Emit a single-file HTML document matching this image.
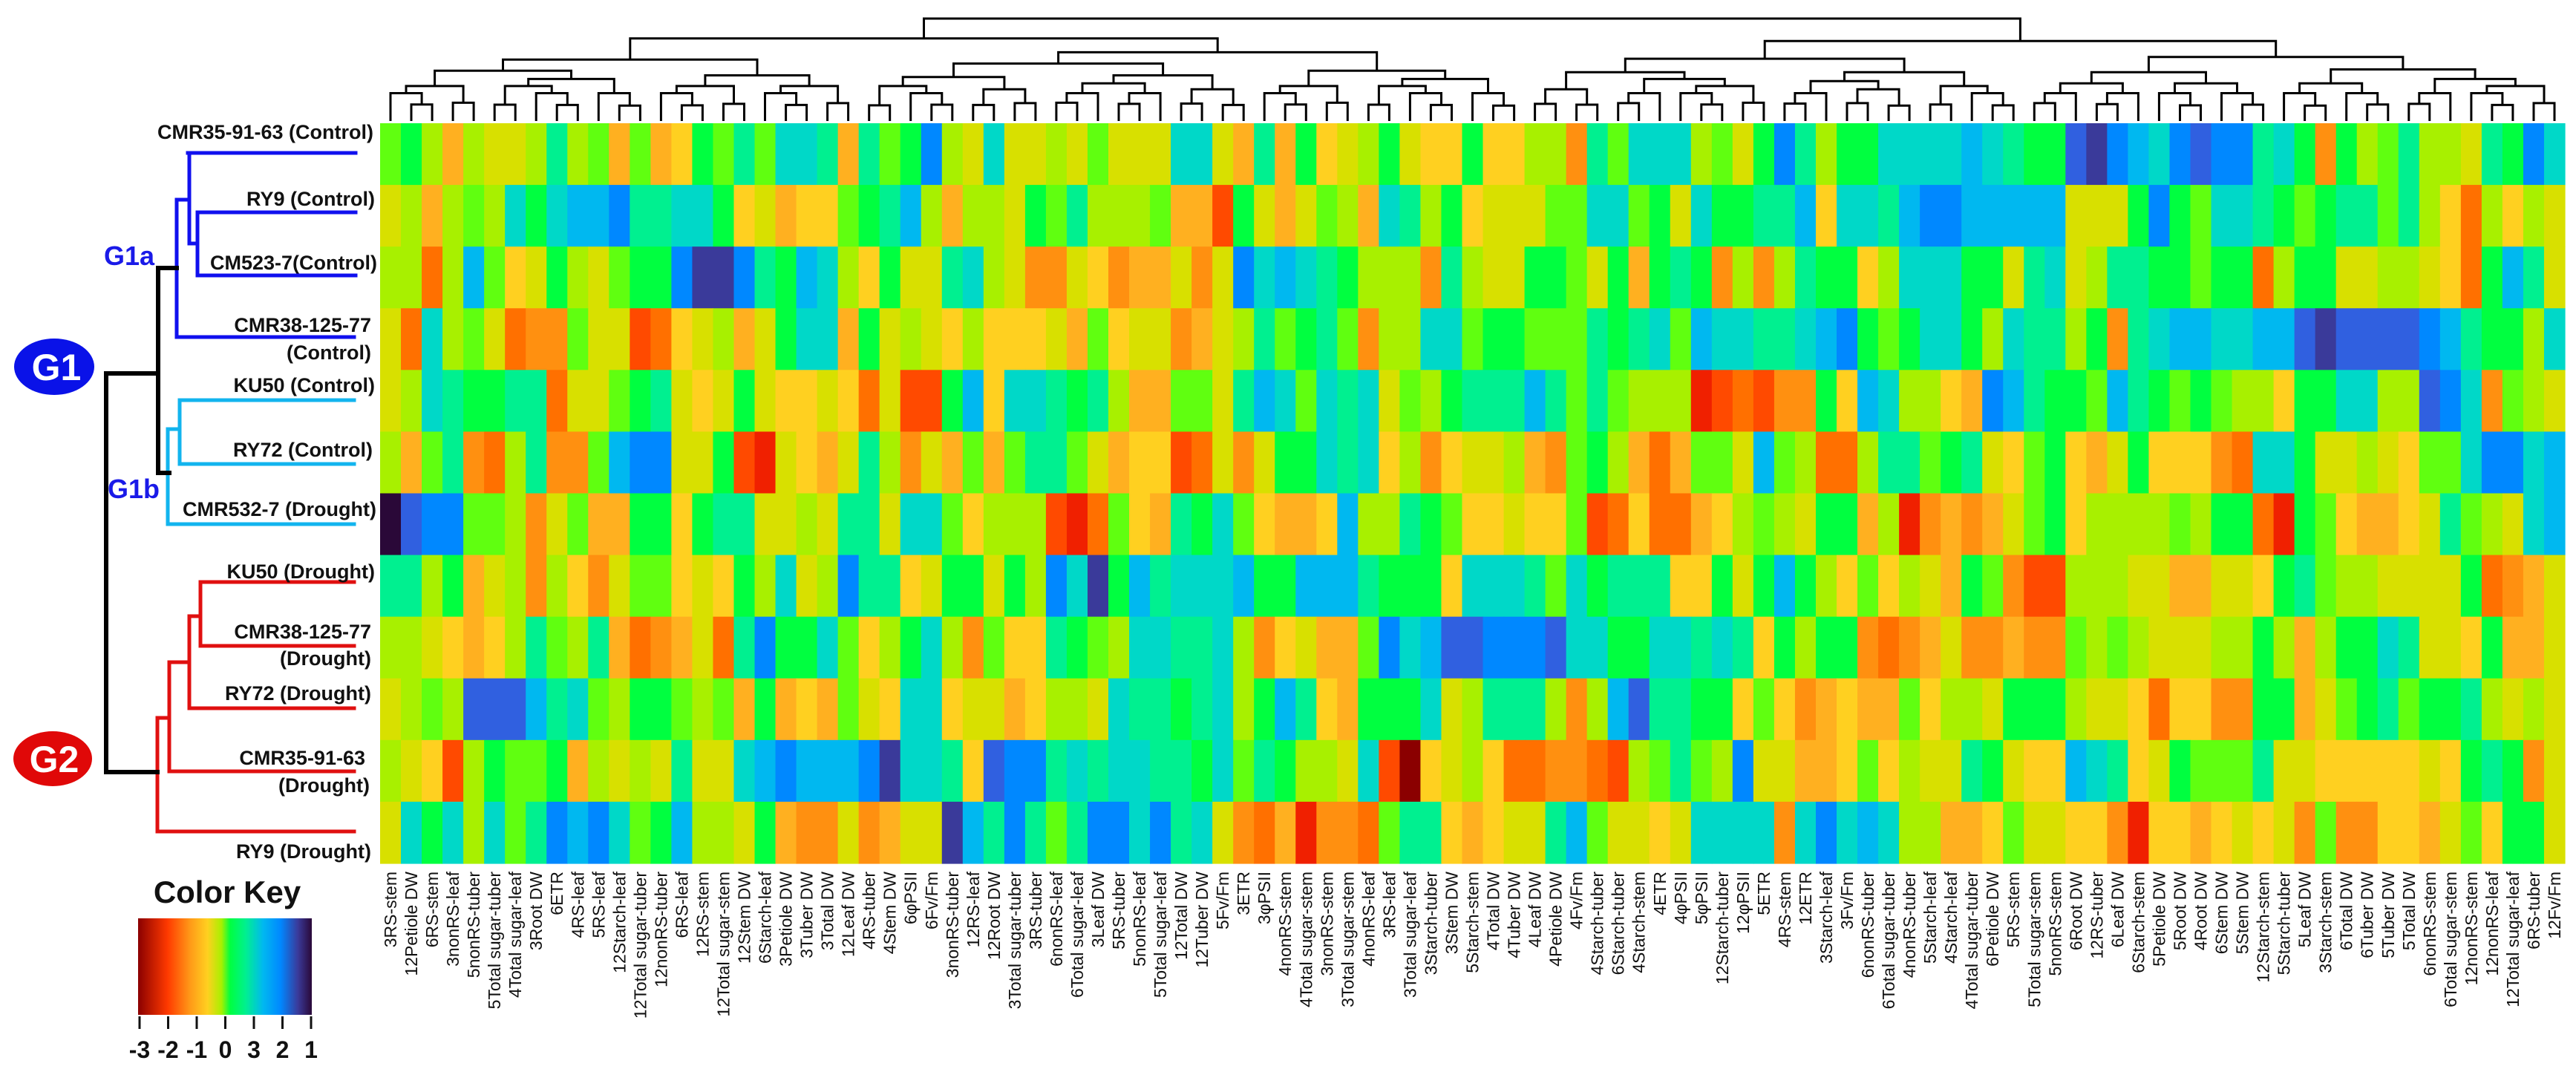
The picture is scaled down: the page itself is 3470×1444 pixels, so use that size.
<!DOCTYPE html>
<html>
<head>
<meta charset="utf-8">
<style>
html,body{margin:0;padding:0;background:#fff;}
svg{display:block;}
text{font-family:"Liberation Sans",Arial,sans-serif;}
</style>
</head>
<body>
<svg id="chart" width="3470" height="1444" viewBox="0 0 3470 1444" xmlns="http://www.w3.org/2000/svg">
  <g id="cells"></g>
  <g id="collabels"></g>
  <g id="topdendro" stroke="#000" stroke-width="3" fill="none"></g>

  <g fill="none" stroke-linecap="square">
    <g stroke="#1010ee" stroke-width="5">
      <path d="M253,206 H479 M266,286 H479 M266,371 H479 M266,286 V371 M255,206 V328 H266 M238,454 H477 M238,269 V454 M238,269 H255"/>
    </g>
    <g stroke="#12b4ee" stroke-width="5">
      <path d="M242,539 H477 M242,625 H477 M242,539 V625 M226,578 H242 M226,706 H477 M226,578 V706"/>
    </g>
    <g stroke="#e01010" stroke-width="5">
      <path d="M270,784 H477 M270,870 H477 M270,784 V870 M255,830 H270 M255,954 H477 M255,830 V954 M228,892 H255 M228,1039 H477 M228,892 V1039 M212,967 H228 M212,1120 H477 M212,967 V1120"/>
    </g>
    <g stroke="#000" stroke-width="6">
      <path d="M213,361 H238 M213,637 H228 M213,361 V637 M143,503 H213 M143,503 V1040 H212"/>
    </g>
  </g>

  <g font-weight="bold" font-size="27" fill="#111" text-anchor="end">
    <text x="503" y="187">CMR35-91-63 (Control)</text>
    <text x="505" y="277">RY9 (Control)</text>
    <text x="508" y="363">CM523-7(Control)</text>
    <text x="500" y="447">CMR38-125-77</text>
    <text x="500" y="484">(Control)</text>
    <text x="505" y="528">KU50 (Control)</text>
    <text x="502" y="615">RY72 (Control)</text>
    <text x="507" y="695">CMR532-7 (Drought)</text>
    <text x="505" y="779">KU50 (Drought)</text>
    <text x="500" y="860">CMR38-125-77</text>
    <text x="500" y="896">(Drought)</text>
    <text x="500" y="943">RY72 (Drought)</text>
    <text x="492" y="1030">CMR35-91-63</text>
    <text x="498" y="1067">(Drought)</text>
    <text x="500" y="1156">RY9 (Drought)</text>
  </g>

  <g>
    <ellipse cx="73" cy="494" rx="54" ry="38" fill="#0a12e8"/>
    <text x="76" y="512" font-size="50" font-weight="bold" fill="#fff" text-anchor="middle">G1</text>
    <ellipse cx="71" cy="1022" rx="53" ry="37" fill="#e00808"/>
    <text x="73" y="1040" font-size="50" font-weight="bold" fill="#fff" text-anchor="middle">G2</text>
    <text x="140" y="357" font-size="36" font-weight="bold" fill="#1a1ae8">G1a</text>
    <text x="145" y="671" font-size="36" font-weight="bold" fill="#1a1ae8">G1b</text>
  </g>

  <g>
    <defs>
      <linearGradient id="keygrad" x1="0" x2="1" y1="0" y2="0">
        <stop offset="0" stop-color="#8b0000"/>
        <stop offset="0.17" stop-color="#ff3a00"/>
        <stop offset="0.3" stop-color="#ff9a18"/>
        <stop offset="0.4" stop-color="#ffd020"/>
        <stop offset="0.48" stop-color="#a8f000"/>
        <stop offset="0.53" stop-color="#00ff40"/>
        <stop offset="0.62" stop-color="#00f090"/>
        <stop offset="0.72" stop-color="#00b8f0"/>
        <stop offset="0.82" stop-color="#0088ff"/>
        <stop offset="0.92" stop-color="#3a3a9a"/>
        <stop offset="1" stop-color="#2a0838"/>
      </linearGradient>
    </defs>
    <text x="306" y="1216" font-size="42" font-weight="bold" text-anchor="middle" fill="#111">Color Key</text>
    <rect x="186" y="1237" width="234" height="130" fill="url(#keygrad)"/>
    <g id="keyticks"></g>
  </g>
</svg>

<script>
// ---- data ----
const rowNames = ["CMR35-91-63 (Control)","RY9 (Control)","CM523-7 (Control)","CMR38-125-77 (Control)","KU50 (Control)","RY72 (Control)","CMR532-7 (Drought)","KU50 (Drought)","CMR38-125-77 (Drought)","RY72 (Drought)","CMR35-91-63 (Drought)","RY9 (Drought)"];
const columns = ["3RS-stem","12Petiole DW","6RS-stem","3nonRS-leaf","5nonRS-tuber","5Total sugar-tuber","4Total sugar-leaf","3Root DW","6ETR","4RS-leaf","5RS-leaf","12Starch-leaf","12Total sugar-tuber","12nonRS-tuber","6RS-leaf","12RS-stem","12Total sugar-stem","12Stem DW","6Starch-leaf","3Petiole DW","3Tuber DW","3Total DW","12Leaf DW","4RS-tuber","4Stem DW","6φPSII","6Fv/Fm","3nonRS-tuber","12RS-leaf","12Root DW","3Total sugar-tuber","3RS-tuber","6nonRS-leaf","6Total sugar-leaf","3Leaf DW","5RS-tuber","5nonRS-leaf","5Total sugar-leaf","12Total DW","12Tuber DW","5Fv/Fm","3ETR","3φPSII","4nonRS-stem","4Total sugar-stem","3nonRS-stem","3Total sugar-stem","4nonRS-leaf","3RS-leaf","3Total sugar-leaf","3Starch-tuber","3Stem DW","5Starch-stem","4Total DW","4Tuber DW","4Leaf DW","4Petiole DW","4Fv/Fm","4Starch-tuber","6Starch-tuber","4Starch-stem","4ETR","4φPSII","5φPSII","12Starch-tuber","12φPSII","5ETR","4RS-stem","12ETR","3Starch-leaf","3Fv/Fm","6nonRS-tuber","6Total sugar-tuber","4nonRS-tuber","5Starch-leaf","4Starch-leaf","4Total sugar-tuber","6Petiole DW","5RS-stem","5Total sugar-stem","5nonRS-stem","6Root DW","12RS-tuber","6Leaf DW","6Starch-stem","5Petiole DW","5Root DW","4Root DW","6Stem DW","5Stem DW","12Starch-stem","5Starch-tuber","5Leaf DW","3Starch-stem","6Total DW","6Tuber DW","5Tuber DW","5Total DW","6nonRS-stem","6Total sugar-stem","12nonRS-stem","12nonRS-leaf","12Total sugar-leaf","6RS-tuber","12Fv/Fm"];
const keyTickLabels = ["-3","-2","-1","0","3","2","1"];

const row0 = [.1,.4,-.2,-1.2,-.2,-.5,-.5,-.2,.8,-.2,.1,-1.2,.1,-1.2,-.9,.4,.1,.8,.1,1.2,1.2,.8,-1.2,.8,.1,.4,2,-.2,-.5,1.2,-.5,-.5,-.2,-.5,.1,
 -.5,-.5,-.5,1.2,1.2,-.5,-1.2,.8,-1.2,.4,-.9,-.5,-.2,.4,-.5,-.9,-.9,.4,-.9,-.9,-.2,-.2,-1.5,.8,.1,1.2,1.2,1.2,-.2,.1,-.5,.4,2,.8,-.2,
 .4,.4,1.2,1.2,1.2,1.2,1.6,1.2,.8,.4,.4,2.4,2.8,2,1.6,1.2,2,2.4,2,2,.8,1.2,.4,-1.5,.4,-.2,.1,.8,-.2,-.2,-.5,.8,.4,2,1.2];
const row1 = [-.5,-.2,-1.2,-.2,.1,-.2,1.2,.4,1.2,1.6,1.6,2,.8,.8,1.2,1.2,.4,-.9,-.5,-1.2,-.9,-.9,.1,.4,.8,1.6,-.2,-1.2,-.2,-.2,-.5,.4,.1,.8,-.2,
 -.2,-.2,.1,-1.2,-1.2,-2.2,.4,-.5,-1.2,-.5,.1,-.2,-1.2,1.2,.8,-.2,.4,-.9,-.5,-.5,-.5,.1,.1,1.2,1.2,.1,.4,-.5,1.2,.4,.4,.8,.8,1.6,-.9,
 1.2,1.2,.8,1.6,2,2,1.6,1.6,1.6,1.6,1.6,-.5,-.5,-.5,.4,2,.4,.1,1.2,1.2,.8,.4,.1,.4,.8,.8,.1,.8,-.2,-.9,-1.8,-.2,-.9,-.2,-.5];
const row2 = [-.2,-.2,-1.8,-.2,1.6,.1,-.9,-.5,.4,-.2,-.5,.1,.4,.4,2,2.8,2.8,2,.8,.4,1.6,1.2,-.2,-.9,.4,-.5,-.5,.8,1.2,-.2,-.5,-1.5,-1.5,-.5,-.9,
 -1.5,-1.2,-1.2,-.5,-1.5,-.5,2,1.2,1.6,1.2,.8,.4,-.2,-.2,-.2,-1.5,.8,-.2,-.5,-.5,.4,.4,.1,-.5,.4,-1.2,.4,.8,.4,-1.5,-.2,-1.5,-.2,.8,.4,
 .4,-.9,-.2,1.2,1.2,1.2,.4,.4,-.5,.8,1.2,-.5,-.2,.8,.8,.4,.4,.1,.4,.4,-1.8,-.2,.4,.4,-.5,-.5,-.2,-.2,-.5,-.9,-1.8,.4,1.6,.8,-.5];
const row3 = [-.5,-1.8,1.2,-.2,.1,-.5,-1.8,-1.5,-1.5,.1,-.5,-.5,-2.2,-1.8,-.9,-.5,-.2,-1.2,-.5,.4,1.2,1.2,-1.2,.4,-.5,-.2,-.5,-.9,-.2,-.9,-.9,-.9,-.5,-1.2,.1,
 -.9,-.5,-.5,-1.5,-1.2,-.5,-.2,.8,.1,.4,.8,.1,-1.5,-.2,-.2,1.2,1.2,.1,.4,.4,.1,.1,.1,.8,.4,.8,1.2,.1,1.6,1.2,1.2,.8,.8,1.2,1.6,
 2,.4,.1,.4,1.2,1.2,.4,-.2,1.2,.8,.8,-.2,.4,-1.5,.8,1.2,1.6,1.6,1.2,1.2,1.6,1.6,2.4,2.8,2.4,2.4,2.4,2.4,2,1.6,.8,.4,.4,-.2,1.2];
const row4 = [-.5,-.2,1.2,.8,.4,.4,.8,.8,-1.8,-.5,-.5,.1,.4,.8,-.5,-.9,-.5,.4,-.5,-.9,-.9,-.5,-.9,-1.8,-.5,-2.2,-2.2,.4,1.6,-.9,1.2,1.2,.8,.4,.8,
 -.2,-1.2,-1.2,.1,.1,-.5,.8,1.6,1.2,.1,1.2,.8,1.2,-.5,.1,-.2,.4,.8,.8,.8,1.6,.8,.1,.8,.1,-.2,-.2,-.2,-2.5,-2.2,-1.8,-2.2,-1.5,-1.5,.4,
 -.9,1.6,1.2,-.2,-.2,-.9,-1.2,2,1.6,.8,.4,.4,.1,1.6,.8,.4,.1,.4,.1,-.2,-.2,-.9,.4,.4,1.2,1.2,-.2,-.2,2.4,2,1.2,-1.5,.1,-.2,-.5];
const row5 = [-.2,-1.2,.1,.8,-1.5,-1.8,-.2,.8,-1.5,-1.5,.1,1.6,2,2,-.5,-.5,.4,-2.2,-2.5,-.5,-.9,-1.2,-.5,.8,-.2,-1.5,-.5,-1.2,.1,-1.2,.1,.8,.8,.1,-.5,
 -1.2,-.9,-.9,-2.2,-1.8,-.5,-1.5,-.5,.4,.4,1.2,.8,1.2,-.9,-.2,-1.5,-.9,-.5,-.5,-.2,-1.2,-1.5,.1,.4,-.2,-1.2,-1.8,-1.2,.1,.1,-.5,1.6,.1,-.2,-1.8,
 -1.8,-.2,.8,.8,.1,.4,.8,-.5,-.9,.1,.4,-.9,-1.2,-.5,.4,-.9,-.9,-.9,-1.5,-1.8,1.2,1.2,.4,-.5,-.5,-.2,-.5,-.9,.1,.1,1.2,2,2,1.2,1.6];
const row6 = [3.2,2.4,2,2,.1,.1,-.2,-1.5,-.5,.1,-1.2,-1.2,.4,.4,-.9,.4,.8,.8,-.5,-.5,-.2,-.5,.8,.8,-.5,1.2,1.2,.1,-.9,-.2,-.2,-.2,-2.2,-2.5,-1.8,
 .1,-.9,-1.2,.8,.4,1.2,.1,-.9,-1.2,-1.2,-.9,1.6,-.2,-.2,.8,.4,.1,-.9,-.9,-.5,-.9,-.9,.1,-2.2,-1.8,-.9,-1.8,-1.8,-1.2,-.9,-.2,.1,-.2,-.5,.4,
 .4,-1.2,-.2,-2.5,-1.5,-1.2,-1.5,-1.2,-.5,.1,.4,-.9,-.2,-.2,-.2,-.2,.1,-.2,.4,.4,-1.8,-2.5,.4,.1,-.9,-1.2,-1.2,-.9,-.5,.8,.1,-.2,-.5,1.2,1.6];
const row7 = [.8,.8,-.2,.4,-1.2,-.5,-.2,-1.5,-.2,-.9,-1.5,-.5,.1,.1,-.9,-.5,-.9,.4,-.2,1.2,-.5,-.2,2,.8,.8,-.9,-.5,.4,.4,-.5,.4,-.2,2,1.2,2.8,
 .4,1.6,.8,1.2,1.2,1.2,1.6,.4,.4,1.6,1.6,1.6,.8,.4,.4,.4,-.9,1.2,1.2,1.2,.8,.1,1.2,.4,.8,.8,.8,-.9,-.9,.4,-.5,.4,1.6,.4,-.2,
 -.9,.1,-.9,-.2,-.5,-1.2,.4,.1,-1.5,-2.2,-2.2,-.2,-.2,-.2,-.5,-.5,-1.2,-1.2,-.5,-.5,-.9,.4,.8,.1,-.2,-.2,-.5,-.5,-.5,-.5,.4,-1.8,-1.5,-1.2,-.5];
const row8 = [-.2,-.2,-.5,-.9,-1.2,-.9,-.2,.8,.1,-.2,.8,-1.2,-1.8,-1.5,-1.2,-.5,-1.8,.8,2,.4,.4,1.2,.1,-.9,-.2,.4,1.2,-.2,-1.5,.1,-.9,-.9,.8,.4,.1,
 -.2,1.2,1.2,.8,.8,1.2,-.2,-1.5,-.9,-.5,-1.2,-1.2,.1,2,1.2,1.6,2.4,2.4,2,2,2,2.4,1.2,1.2,.4,.4,1.2,1.2,.8,1.2,.8,-.9,.4,-.2,.4,
 .4,-1.5,-1.8,-1.5,-1.2,-.5,-1.5,-1.5,-1.2,-1.5,-1.5,.1,-.2,.1,-.2,-.5,-.5,-.5,-.2,-.2,.4,-.2,-1.2,-.2,.4,.4,1.2,.8,-.5,-.5,-.9,.4,-1.2,-1.2,-.5];
const row9 = [-.5,-.2,.1,-.2,2.4,2.4,2.4,1.6,.8,1.2,.1,-.2,.4,.4,.1,-.2,.1,-1.2,.4,-1.2,-.9,-1.2,.1,-.5,-.9,1.2,1.2,-.9,-.5,-.5,-1.2,-.9,-.2,-.2,-.5,
 1.2,.8,.8,.4,.8,1.2,-.2,.4,1.6,.8,-.9,-1.2,.4,.4,.4,1.2,-.5,-.2,.8,.8,.8,-.2,-1.5,-.2,1.6,2.4,.8,.8,.4,.4,-.9,.1,-.9,-1.5,-1.2,
 -.9,-1.2,-1.2,.1,-.9,-.2,-.2,-.5,.4,.4,.4,-.2,-.5,-.5,-.9,-1.8,-.9,-.9,-1.5,-1.5,.4,.4,-1.2,-.5,.1,.4,.8,.1,.4,.4,.8,-.2,-.5,-.2,-.5];
const row10 = [-.2,-.5,-.9,-2.2,-.2,.4,.1,.1,.4,-1.2,-.2,-.5,-.2,-.5,.8,-.5,-.5,1.2,1.6,2,1.6,1.6,1.6,2,2.8,1.2,1.2,.8,-.9,2.4,2,2,.8,1.2,.8,
 1.2,1.2,.8,.8,.4,1.2,.1,.8,.4,-.2,-.2,-.5,1.2,-2.2,-3,-.9,-.5,-.2,-.9,-1.8,-1.8,-1.5,-1.5,-1.8,-2.2,-.2,.1,.8,.1,-.2,2,-.5,-.5,-1.2,-1.2,
 -.9,.1,-.9,-.2,-.5,-.5,.8,.4,-.5,-.9,-.9,1.6,1.2,.8,-.9,-.5,.4,.1,.1,.1,.8,-.5,-.5,-.9,-.9,-.9,-.9,-.9,-.5,-.9,.4,.8,.4,-1.5,-.5];
const row11 = [-.5,1.2,.4,1.2,-.2,1.2,.1,.8,2,1.6,2,1.2,.1,.4,1.6,-.2,-.2,-.5,.4,-1.2,-1.5,-1.5,-.5,-1.5,-1.2,-.5,-.5,2.8,1.6,.8,2,.8,.1,.8,2,
 2,1.2,2,.8,1.2,-.5,-1.5,-1.8,-1.2,-2.5,-1.5,-1.5,-1.8,.1,.8,.8,-.9,-1.2,-.9,-.5,-.5,.8,1.6,.1,-.5,-.5,-.9,-.5,1.2,1.2,1.2,1.2,-1.5,1.2,2,
 1.2,1.6,1.2,-.2,-.2,-1.2,-1.2,-.9,.1,-.5,-.5,-.9,-.9,-1.5,-2.5,-.9,-.9,-1.2,-.9,-.5,-.9,-.5,-1.5,.1,-1.5,-1.5,-.9,-.9,-1.2,-.5,.1,-.9,.4,.4,-.5];
const matrix = [row0,row1,row2,row3,row4,row5,row6,row7,row8,row9,row10,row11];

// ---- layout ----
const NS = "http://www.w3.org/2000/svg";
const X0 = 512, X1 = 3455, Y0 = 166, Y1 = 1163;
const nCol = columns.length, nRow = rowNames.length;
const cw = (X1 - X0) / nCol, rh = (Y1 - Y0) / nRow;
function xScale(i){ return X0 + i * cw; }
function yScale(j){ return Y0 + j * rh; }

const stops = [[-3,[139,0,0]],[-2.5,[240,32,0]],[-2.2,[255,74,0]],[-1.8,[255,112,0]],[-1.5,[255,144,16]],[-1.2,[255,176,32]],[-0.9,[255,208,32]],[-0.5,[216,224,0]],[-0.2,[168,240,0]],[0.1,[96,255,16]],[0.4,[0,255,64]],[0.8,[0,240,144]],[1.2,[0,216,200]],[1.6,[0,184,240]],[2.0,[0,136,255]],[2.4,[48,96,224]],[2.8,[58,58,154]],[3.2,[42,8,56]]];
function colorScale(v){
  if (v <= stops[0][0]) return "rgb(" + stops[0][1].join(",") + ")";
  for (let k = 1; k < stops.length; k++){
    if (v <= stops[k][0]){
      const a = stops[k-1], b = stops[k];
      const t = (v - a[0]) / (b[0] - a[0]);
      const c = a[1].map((x, i) => Math.round(x + (b[1][i] - x) * t));
      return "rgb(" + c.join(",") + ")";
    }
  }
  return "rgb(" + stops[stops.length-1][1].join(",") + ")";
}

const cellsG = document.getElementById("cells");
matrix.forEach((row, j) => {
  row.forEach((v, i) => {
    const r = document.createElementNS(NS, "rect");
    r.setAttribute("x", xScale(i).toFixed(2));
    r.setAttribute("y", yScale(j).toFixed(2));
    r.setAttribute("width", (cw + 0.6).toFixed(2));
    r.setAttribute("height", (rh + 0.6).toFixed(2));
    r.setAttribute("fill", colorScale(v));
    
    
    cellsG.appendChild(r);
  });
});

const labG = document.getElementById("collabels");
columns.forEach((name, i) => {
  const cx = xScale(i) + cw / 2 + 8;
  const t = document.createElementNS(NS, "text");
  t.setAttribute("transform", "translate(" + cx.toFixed(1) + ",1174) rotate(-90)");
  t.setAttribute("text-anchor", "end");
  t.setAttribute("font-size", "23");
  t.setAttribute("fill", "#111");
  t.textContent = name;
  
  
  labG.appendChild(t);
});

// color key ticks
const keyG = document.getElementById("keyticks");
keyTickLabels.forEach((lab, k) => {
  const x = 188 + k * (419 - 188) / (keyTickLabels.length - 1);
  const ln = document.createElementNS(NS, "line");
  ln.setAttribute("x1", x); ln.setAttribute("x2", x);
  ln.setAttribute("y1", 1369); ln.setAttribute("y2", 1386);
  ln.setAttribute("stroke", "#111"); ln.setAttribute("stroke-width", "3");
  
  
  keyG.appendChild(ln);
  const t = document.createElementNS(NS, "text");
  t.setAttribute("x", x); t.setAttribute("y", 1425);
  t.setAttribute("text-anchor", "middle");
  t.setAttribute("font-size", "32");
  t.setAttribute("font-weight", "bold");
  t.setAttribute("fill", "#111");
  t.textContent = lab;
  
  
  keyG.appendChild(t);
});

// column dendrogram (approximate structure)
const dendroSplits = [0.52, 0.42, 0.55, 0.38, 0.6, 0.47, 0.5, 0.35, 0.58, 0.45];
const dG = document.getElementById("topdendro");
let splitIdx = 0;
function nodeY(n){ return 163 - 138 * Math.pow((n - 1) / (nCol - 1), 0.33); }
function build(lo, hi){
  const n = hi - lo;
  if (n === 1) return { x: xScale(lo) + cw / 2, y: 163 };
  const f = dendroSplits[(splitIdx++) % dendroSplits.length];
  let m = lo + Math.max(1, Math.min(n - 1, Math.round(n * f)));
  const L = build(lo, m), R = build(m, hi);
  const y = nodeY(n) + (n > 2 ? 0 : 15 * f);
  const p = document.createElementNS(NS, "path");
  p.setAttribute("d", "M" + L.x.toFixed(1) + "," + L.y.toFixed(1) + " V" + y.toFixed(1) + " H" + R.x.toFixed(1) + " V" + R.y.toFixed(1));
  
  
  dG.appendChild(p);
  return { x: (L.x + R.x) / 2, y: y };
}
build(0, nCol);
</script>
</body>
</html>
